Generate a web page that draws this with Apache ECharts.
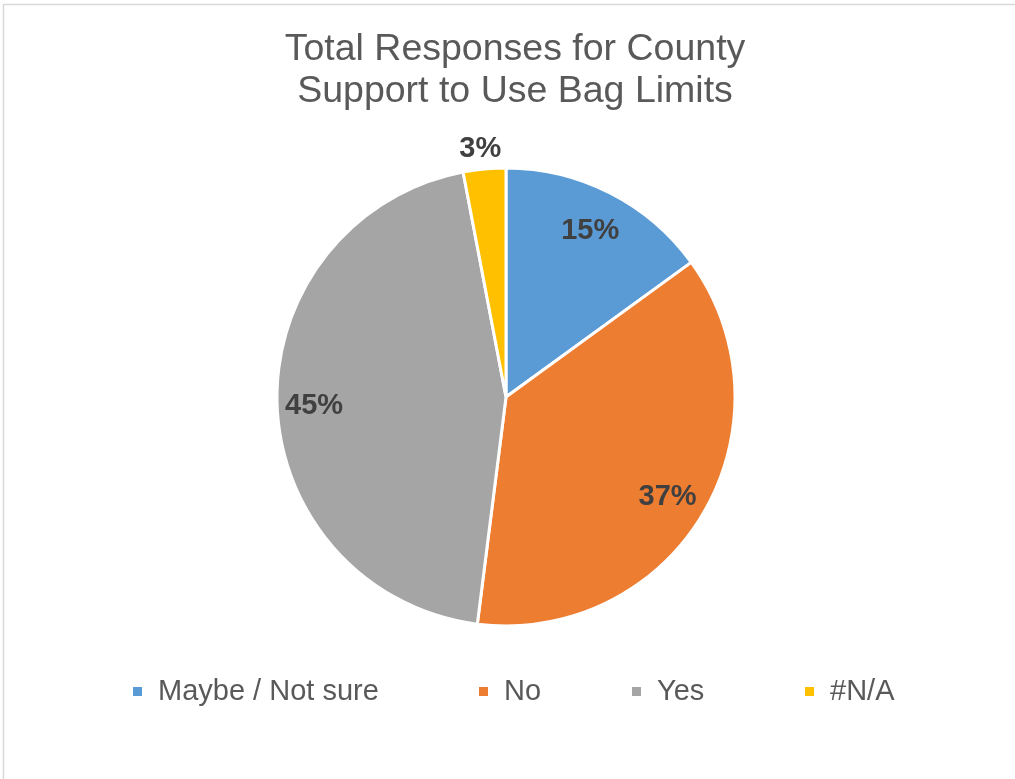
<!DOCTYPE html>
<html>
<head>
<meta charset="utf-8">
<script src="https://cdn.jsdelivr.net/npm/echarts@6/dist/echarts.min.js"></script>
<style>
html,body{margin:0;padding:0;background:#fff;}
#chart{width:1015px;height:779px;}
</style>
</head>
<body>
<div id="chart"></div>
<script>
const titleText = 'Total Responses for County\nSupport to Use Bag Limits';
const categories = ['Maybe / Not sure', 'No', 'Yes', '#N/A'];
const values = [15, 37, 45, 3];
const colors = ['#5B9BD5', '#ED7D31', '#A5A5A5', '#FFC000'];
const insideLabels = [true, true, true, false];

const FONT = "'Liberation Sans', Arial, sans-serif";
const chart = echarts.init(document.getElementById('chart'), null, {renderer: 'canvas'});

const mainData = categories.map((c, i) => ({name: c, value: values[i], itemStyle: {color: colors[i]}}));
const labelFmt = p => Math.round(p.percent) + '%';
const labelStyle = {color: '#404040', fontSize: 29, fontWeight: 'bold', fontFamily: FONT, offset: [-2, 3]};

const overlayInside = categories.map((c, i) => ({
  name: c, value: values[i],
  label: {show: insideLabels[i]}
}));
const overlayOutside = categories.map((c, i) => ({
  name: c, value: values[i],
  label: {show: !insideLabels[i]}
}));

const legendX = [133, 479, 632, 805];
const legends = categories.map((c, i) => ({
  data: [c],
  left: legendX[i],
  top: 677,
  padding: 0,
  icon: 'rect',
  itemWidth: 9,
  itemHeight: 9,
  itemGap: 0,
  itemStyle: {borderWidth: 0},
  textStyle: {color: '#595959', fontSize: 29, fontFamily: FONT, padding: [0, 0, 0, 11]},
  selectedMode: false
}));

const overlayBase = {
  type: 'pie',
  center: [506, 397],
  startAngle: 90,
  clockwise: true,
  silent: true,
  avoidLabelOverlap: false,
  itemStyle: {color: 'rgba(0,0,0,0)', borderWidth: 0},
  emphasis: {disabled: true},
  labelLine: {show: false},
  label: Object.assign({position: 'inside', formatter: labelFmt}, labelStyle)
};

chart.setOption({
  animation: false,
  backgroundColor: '#ffffff',
  title: {
    text: titleText,
    left: 515,
    top: 29,
    padding: 0,
    textAlign: 'center',
    textStyle: {color: '#595959', fontSize: 37.5, fontWeight: 'normal', lineHeight: 42, fontFamily: FONT}
  },
  legend: legends,
  graphic: [{
    type: 'rect',
    shape: {x: 3.5, y: 4.5, width: 1030, height: 800},
    style: {fill: 'none', stroke: '#d9d9d9', lineWidth: 1.5},
    silent: true
  }],
  series: [
    {
      type: 'pie',
      center: [506, 397],
      radius: [0, 229],
      startAngle: 90,
      clockwise: true,
      avoidLabelOverlap: false,
      data: mainData,
      itemStyle: {borderColor: '#ffffff', borderWidth: 3},
      label: {show: false},
      labelLine: {show: false},
      emphasis: {disabled: true}
    },
    Object.assign({}, overlayBase, {radius: [150, 224], data: overlayInside}),
    Object.assign({}, overlayBase, {radius: [240, 258], data: overlayOutside})
  ]
});
</script>
</body>
</html>
